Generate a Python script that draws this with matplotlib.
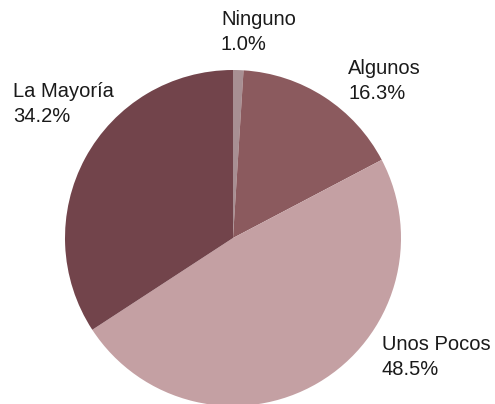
import matplotlib
matplotlib.use("Agg")
import matplotlib.pyplot as plt

categories = ["Ninguno", "Algunos", "Unos Pocos", "La Mayoría"]
values = [1.0, 16.3, 48.5, 34.2]
colors = ["#a88f93", "#8b5a5e", "#c4a0a3", "#72444b"]

W, H = 495, 404
fig = plt.figure(figsize=(W / 100, H / 100), dpi=100)
ax = fig.add_axes([0, 0, 1, 1])

ax.pie(values, colors=colors, startangle=90, counterclock=False,
       center=(233, H - 238), radius=168,
       wedgeprops=dict(linewidth=0))
ax.set_xlim(0, W)
ax.set_ylim(0, H)
ax.set_aspect("equal")
ax.axis("off")

label_pos = {
    "Ninguno": (221, 10),
    "Algunos": (348, 59),
    "La Mayoría": (13, 82),
    "Unos Pocos": (382, 335),
}
font = ["Liberation Sans", "DejaVu Sans"]
for cat, val in zip(categories, values):
    x, y = label_pos[cat]
    ax.text(x, H - y, f"{cat}\n{val:.1f}%", ha="left", va="top",
            fontsize=14.5, family=font, color="#1a1a1a", linespacing=1.42)

fig.savefig("out.png", dpi=100)
